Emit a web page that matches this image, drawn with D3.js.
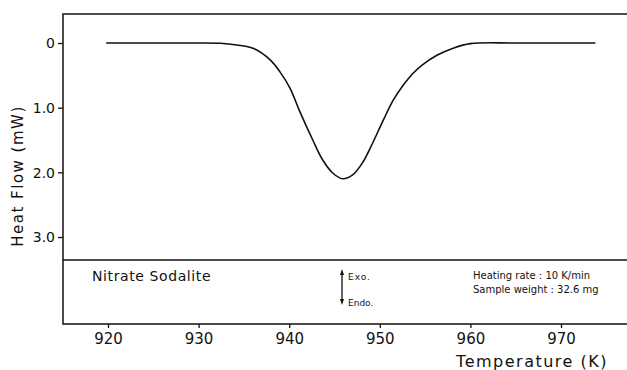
<!DOCTYPE html>
<html>
<head>
<meta charset="utf-8">
<script src="https://cdn.jsdelivr.net/npm/d3@7"></script>
<style>
  body { margin: 0; background: #fff; }
  text { font-family: "DejaVu Sans", sans-serif; fill: #111; }
</style>
</head>
<body>
<div id="chart"></div>
<script>
// DSC trace
const temps = [919.8, 925, 930, 932.4, 934.2, 936.0, 937.9, 939.0, 940.1, 941.2, 942.6, 943.7, 944.8,
               945.9, 947.0, 948.1, 949.2, 950.4, 951.5, 952.6, 953.6, 954.6, 956.3, 958.1, 960.0, 965, 973.8];
const heatFlow = [0, 0, 0, 0.005, 0.03, 0.08, 0.26, 0.45, 0.70, 1.07, 1.50, 1.81, 2.01,
                  2.10, 2.04, 1.85, 1.55, 1.19, 0.88, 0.65, 0.48, 0.35, 0.19, 0.08, 0.01, 0, 0];
const xTicks = [920, 930, 940, 950, 960, 970];
const yTicks = [0, 1, 2, 3];
const yTickLabels = ["0", "1.0", "2.0", "3.0"];

const w = 627;
const h = 370;

const boxLeft = 63, boxTop = 14, boxRight = 627, boxBottom = 324, divider = 260;

const svg = d3.select("#chart").append("svg")
  .attr("width", w)
  .attr("height", h);

const x = d3.scaleLinear().domain([920, 970]).range([108, 561]);
const y = d3.scaleLinear().domain([0, 3]).range([43, 237]);

// frame
svg.append("path")
  .attr("d", `M${boxRight},${boxTop}H${boxLeft}V${boxBottom}H${boxRight}`)
  .attr("fill", "none").attr("stroke", "#111").attr("stroke-width", 1.5);
svg.append("line")
  .attr("x1", boxLeft).attr("x2", boxRight)
  .attr("y1", divider).attr("y2", divider)
  .attr("stroke", "#111").attr("stroke-width", 1.5);

// y axis
const yAxis = d3.axisLeft(y).tickValues(yTicks).tickSize(5).tickPadding(3)
  .tickFormat((d, i) => yTickLabels[i]);
svg.append("g").attr("transform", `translate(${boxLeft},0)`).call(yAxis)
  .call(g => g.select(".domain").remove())
  .call(g => g.selectAll("line").attr("stroke", "#111").attr("stroke-width", 1.3))
  .call(g => g.selectAll("text").style("font-size", "14px").attr("dy", "0.35em"));

// x axis
const xAxis = d3.axisBottom(x).tickValues(xTicks).tickSize(4).tickPadding(5);
svg.append("g").attr("transform", `translate(0,${boxBottom})`).call(xAxis)
  .call(g => g.select(".domain").remove())
  .call(g => g.selectAll("line").attr("stroke", "#111").attr("stroke-width", 1.3))
  .call(g => g.selectAll("text").style("font-size", "15px"));

// axis titles
svg.append("text")
  .attr("transform", "translate(23,176) rotate(-90)")
  .attr("text-anchor", "middle")
  .style("font-size", "15px")
  .style("letter-spacing", "1.5px")
  .text("Heat Flow  (mW)");

svg.append("text")
  .attr("x", 608).attr("y", 367)
  .attr("text-anchor", "end")
  .style("font-size", "16px")
  .style("letter-spacing", "1.5px")
  .text("Temperature  (K)");

// curve
const line = d3.line()
  .x((d, i) => x(temps[i]))
  .y(d => y(d))
  .curve(d3.curveCatmullRom.alpha(0.5));
svg.append("path")
  .datum(heatFlow)
  .attr("d", line)
  .attr("fill", "none")
  .attr("stroke", "#111")
  .attr("stroke-width", 1.6);

// annotations
svg.append("text")
  .attr("x", 92).attr("y", 281)
  .style("font-size", "14px")
  .style("letter-spacing", "0.6px")
  .text("Nitrate Sodalite");

const ax = 342;
svg.append("line")
  .attr("x1", ax).attr("x2", ax).attr("y1", 272).attr("y2", 302)
  .attr("stroke", "#111").attr("stroke-width", 1.3);
svg.append("path").attr("d", `M${ax - 2},275L${ax},269L${ax + 2},275Z`).attr("fill", "#111");
svg.append("path").attr("d", `M${ax - 2},299L${ax},305L${ax + 2},299Z`).attr("fill", "#111");
svg.append("text").attr("x", 348).attr("y", 280)
  .style("font-size", "9px").style("letter-spacing", "1px").text("Exo.");
svg.append("text").attr("x", 348).attr("y", 306)
  .style("font-size", "9px").text("Endo.");

svg.append("text").attr("x", 473).attr("y", 279)
  .style("font-size", "10px")
  .text("Heating rate : 10 K/min");
svg.append("text").attr("x", 473).attr("y", 293)
  .style("font-size", "10px")
  .text("Sample weight : 32.6 mg");
</script>
</body>
</html>
